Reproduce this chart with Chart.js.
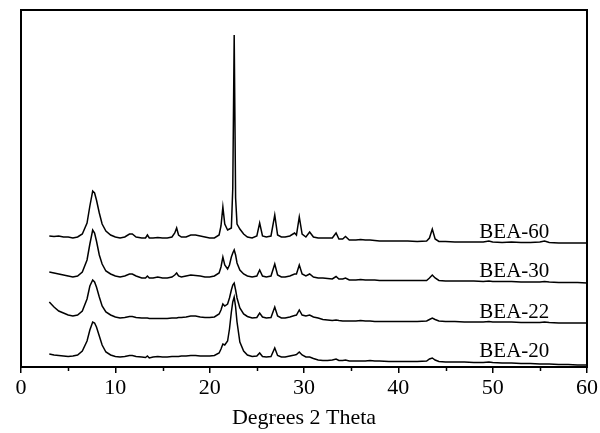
<!DOCTYPE html>
<html>
<head>
<meta charset="utf-8">
<script src="https://cdn.jsdelivr.net/npm/chart.js@4"></script>
<style>
html,body{margin:0;padding:0;background:#fff;}
canvas{display:block;}
</style>
</head>
<body>
<canvas id="c" width="600" height="433"></canvas>
<script>
// 2-theta grid (degrees)
const twoTheta = [3,3.5,4,4.5,5,5.5,6,6.5,7,7.3,7.6,7.8,8.0,8.3,8.6,9,9.5,10,10.5,11,11.5,11.8,12.2,12.8,13.2,13.4,13.6,14,14.5,15,15.5,16,16.3,16.5,16.7,17,17.5,18,18.5,19,19.5,20,20.5,21,21.2,21.4,21.6,21.9,22.1,22.3,22.45,22.6,22.75,22.9,23.2,23.6,24,24.5,25,25.3,25.6,26,26.5,26.9,27.2,27.6,28,28.5,29,29.2,29.5,29.8,30.2,30.6,31,31.5,32,32.5,33,33.4,33.7,34.1,34.4,34.8,35.5,36,36.5,37,37.5,38,39,40,41,42,43,43.3,43.6,43.9,44.3,45,46,47,48,49,49.6,50,51,52,53,54,55,55.5,56,57,58,59,60];

// Intensities (relative to each pattern's own baseline)
const bea60 = [2,1.5,2,1,1,0,1,4,15,32,47,45,38,25,14,7,3,1,0,1,4,4,1,0,0,3,0,0,0.5,0,0,1,5,10,3,1,1,3,3,2,1,0,0,3,12,31,14,8,9,10,50,203,40,14,9,4,1,0,2,15,2,1,2,23,3,1,1,2,5,3,21,4,1,6,1,0,0,0,0,5,-1,-1,1.5,-2,-2,-1.5,-2,-2,-2.5,-3,-3,-3,-3,-3.5,-3,0,9,-1,-3.5,-3.5,-4,-4,-4,-4,-3,-4,-4.5,-4,-4.5,-4.5,-4,-3,-4.5,-5,-5,-5,-5];
const bea30 = [5,4,3,2,1,0,1,5,17,33,47,44,36,22,13,6,3,1,0,1,3,3,1,-1,-1,1,-1,-1,0,-1,-1,0,2,4,1,0,1,2,1.5,1,0,0,1,4,10,20,12,8,12,20,24,27,22,14,7,3,1,0,1,7,1,0,1,13,2,0,0,1,3,3,12,3,1,3,0,-1,-1,-1.5,-2,0.5,-2,-2,-1,-3,-3,-2.5,-3,-3,-3,-3.5,-3.5,-3.5,-3.5,-3.5,-3.5,-1,2,-1,-3.5,-4,-4,-4,-4,-4.5,-4,-4.5,-4.5,-4.5,-5,-5,-5,-4.5,-5,-5.5,-5.5,-5.5,-6];
const bea22 = [16,11,7,5,3,2,3,7,19,32,38,36,31,21,12,6,3,1,0,0.5,1.5,1.5,0.5,0,0,0,-0.5,-0.5,-0.5,-0.5,-0.5,0,0,0,0.5,0.5,1,2,2,1,0.5,0.5,1,4,8,14,12,14,20,28,33,35,28,20,10,4,1.5,0,0.5,5,1,0,0.5,11,2,0,0,1,2.5,3,8,3,2,3,1,0,-1.5,-2,-2.5,-2,-2.5,-3,-3,-3,-3,-2.5,-3,-3,-3.5,-3.5,-3.5,-3.5,-3.5,-3.5,-3,-1.5,0,-1.5,-3,-3.5,-3.5,-4,-4,-4,-3.5,-4,-4,-4,-4.5,-4.5,-4.5,-4,-4.5,-5,-5,-5,-5];
const bea20 = [3,2,1.5,1,0.5,1,2,6,16,27,35,34,30,21,12,5,2,0.5,0,0.5,1.5,1.5,0.5,0,-0.5,1,-1,0,0.5,0,0,0.5,0.5,0.5,0.5,1,1,1.5,1.5,1,1,1,1.5,4,8,13,12,16,28,45,55,60,50,35,15,6,2,0.5,1,4,0.5,0,0.5,9,1.5,0,0,1,2,2.5,5,2,0,0,-1.5,-3,-3.5,-3.5,-3,-2,-3.5,-3.5,-3,-4,-4,-4,-4,-3.5,-4,-4,-4.5,-4.5,-4.5,-4.5,-4,-2,-1,-3,-4.5,-5,-5,-5,-5.5,-5.5,-5,-5.5,-6,-6,-6.5,-6.5,-7,-7,-7,-7.5,-7.5,-8,-8];

const seriesNames = ['BEA-20','BEA-22','BEA-30','BEA-60'];
const seriesData = [bea20, bea22, bea30, bea60];
const offsets = [10, 49, 90, 129];   // vertical stacking offsets
const labelX = 52.3;                 // 2-theta where the names are written
const xTicks = [0,10,20,30,40,50,60];
const minorTicks = [5,15,25,35,45,55];

const datasets = seriesData.map((arr, i) => ({
  label: seriesNames[i],
  data: twoTheta.map((t, k) => ({x: t, y: arr[k] + offsets[i]})),
  borderColor: '#000',
  borderWidth: 1.5,
  pointRadius: 0,
  tension: 0,
  fill: false
}));

const serif = "'Liberation Serif','Times New Roman',serif";

const framePlugin = {
  id: 'frame',
  afterDraw(chart) {
    const {ctx, chartArea: a, scales} = chart;
    ctx.save();
    ctx.strokeStyle = '#000';
    ctx.lineWidth = 2;
    ctx.strokeRect(a.left, a.top, a.right - a.left, a.bottom - a.top);
    // minor ticks
    ctx.lineWidth = 1.5;
    minorTicks.forEach(v => {
      const px = Math.round(scales.x.getPixelForValue(v)) + 0.5;
      ctx.beginPath();
      ctx.moveTo(px, a.bottom);
      ctx.lineTo(px, a.bottom + 4);
      ctx.stroke();
    });
    // series names
    ctx.fillStyle = '#000';
    ctx.font = "21px " + serif;
    ctx.textAlign = 'center';
    ctx.textBaseline = 'alphabetic';
    seriesNames.forEach((n, i) => {
      ctx.fillText(n, scales.x.getPixelForValue(labelX), scales.y.getPixelForValue(offsets[i]));
    });
    ctx.restore();
  }
};

new Chart(document.getElementById('c'), {
  type: 'line',
  data: {datasets},
  options: {
    responsive: false,
    devicePixelRatio: 1,
    animation: false,
    layout: {padding: {left: 21, right: 12, top: 10, bottom: 0}},
    plugins: {legend: {display: false}, tooltip: {enabled: false}},
    scales: {
      x: {
        type: 'linear',
        min: 0, max: 60,
        afterBuildTicks(scale) { scale.ticks = xTicks.map(v => ({value: v})); },
        afterFit(scale) { scale.height = 66; },
        ticks: {color: '#000', font: {family: serif, size: 22}, padding: 2, maxRotation: 0},
        grid: {drawOnChartArea: false, drawTicks: true, tickLength: 6, color: '#000', lineWidth: 1.5},
        border: {display: true, color: '#000', width: 2},
        title: {display: true, text: 'Degrees 2 Theta', color: '#000', font: {family: serif, size: 22}, padding: {top: 0, bottom: 2}}
      },
      y: {
        type: 'linear',
        min: 0, max: 357,
        display: false
      }
    }
  },
  plugins: [framePlugin]
});
</script>
</body>
</html>
